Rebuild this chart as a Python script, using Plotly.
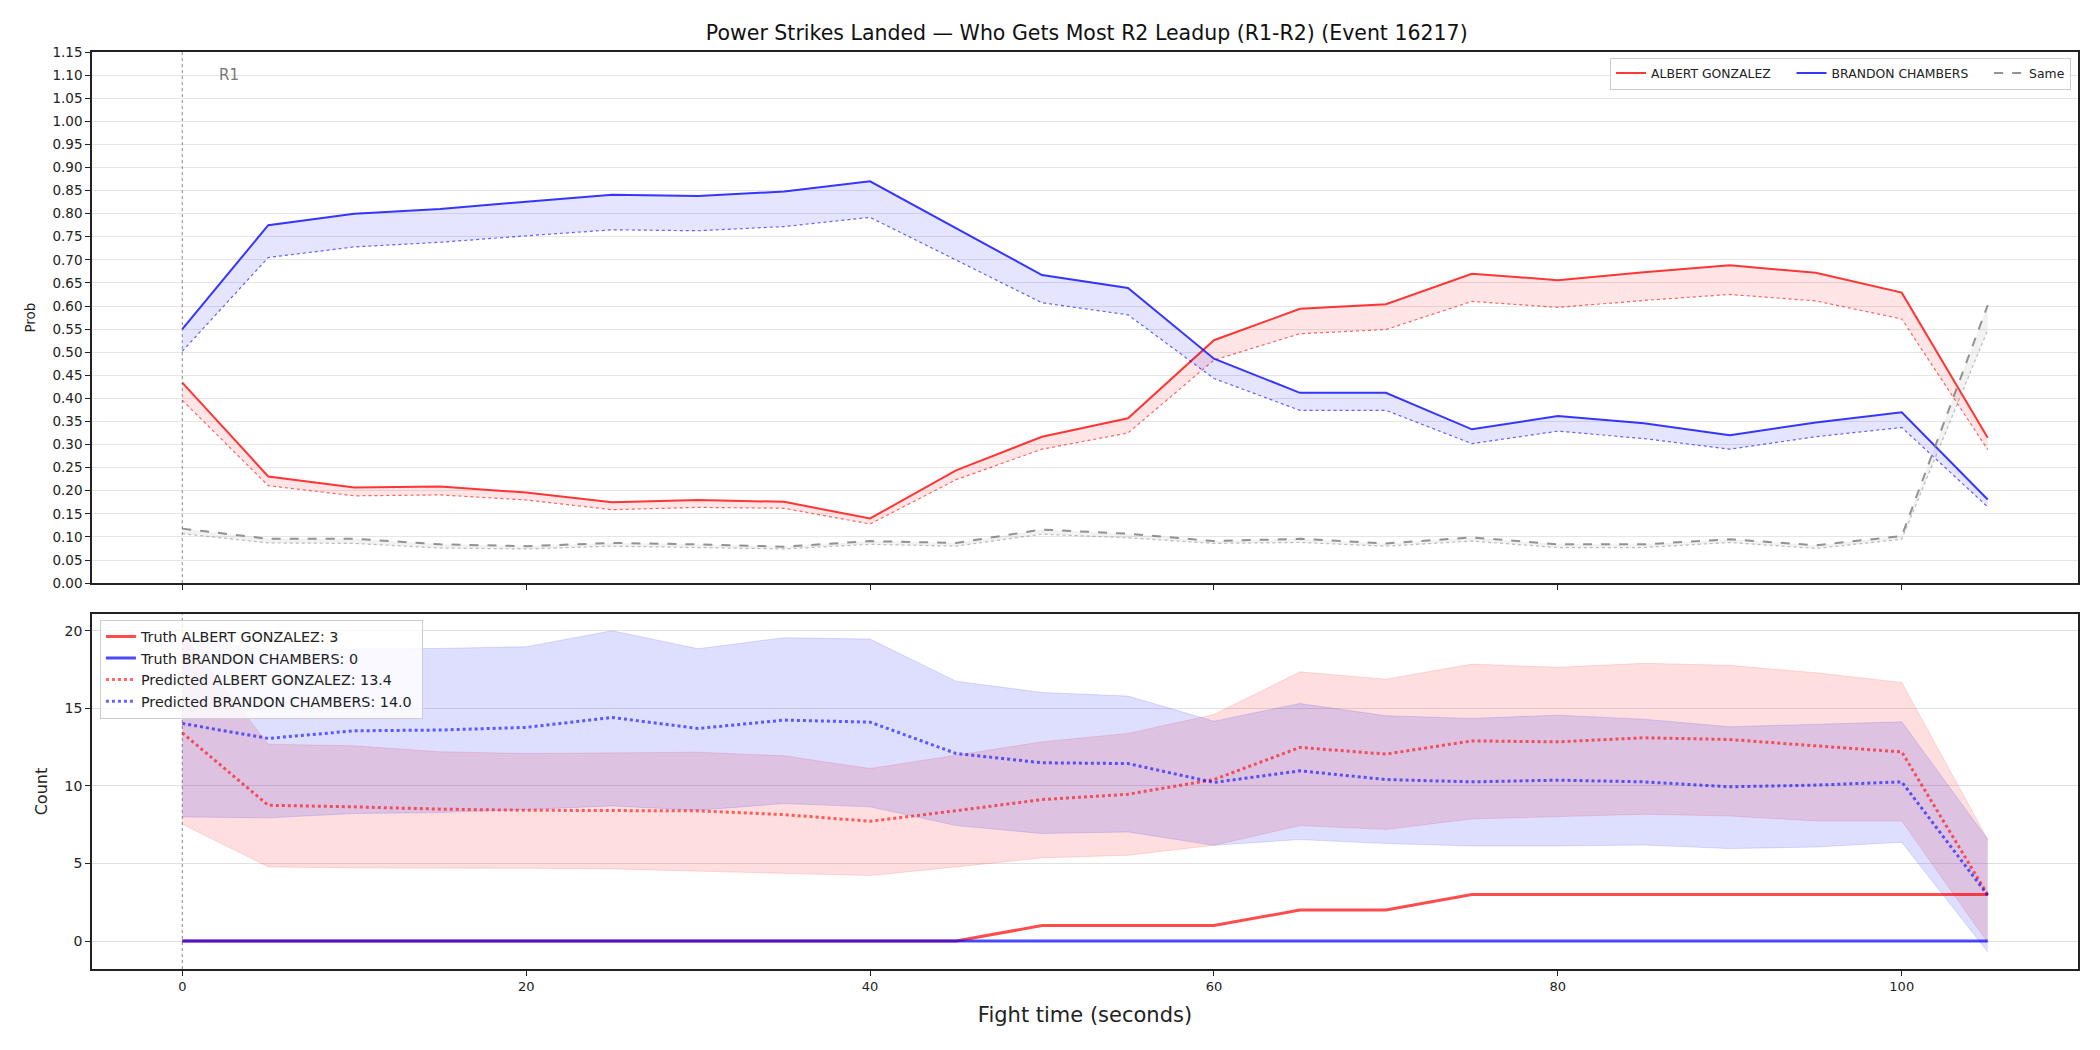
import plotly.graph_objects as go

times = [0, 5, 10, 15, 20, 25, 30, 35, 40, 45, 50, 55, 60, 65, 70, 75, 80, 85, 90, 95, 100, 105]

# Top panel: probabilities
prob_albert = [0.434, 0.231, 0.207, 0.209, 0.196, 0.175, 0.180, 0.176, 0.140, 0.244, 0.317, 0.357,
               0.526, 0.594, 0.604, 0.670, 0.656, 0.673, 0.688, 0.672, 0.629, 0.315]
prob_albert_pred = [0.396, 0.211, 0.189, 0.191, 0.180, 0.159, 0.164, 0.162, 0.128, 0.224, 0.290, 0.325,
                    0.483, 0.540, 0.549, 0.610, 0.597, 0.612, 0.625, 0.611, 0.572, 0.289]
prob_brandon = [0.550, 0.775, 0.800, 0.810, 0.826, 0.841, 0.838, 0.848, 0.870, 0.769, 0.667, 0.639,
                0.486, 0.412, 0.412, 0.333, 0.362, 0.346, 0.320, 0.348, 0.370, 0.181]
prob_brandon_pred = [0.502, 0.705, 0.728, 0.738, 0.752, 0.765, 0.763, 0.772, 0.792, 0.700, 0.607, 0.581,
                     0.443, 0.374, 0.374, 0.302, 0.329, 0.313, 0.290, 0.317, 0.337, 0.165]
prob_same = [0.118, 0.096, 0.096, 0.084, 0.080, 0.087, 0.084, 0.079, 0.091, 0.087, 0.116, 0.107,
             0.091, 0.096, 0.086, 0.099, 0.084, 0.084, 0.095, 0.082, 0.102, 0.602]
prob_same_pred = [0.107, 0.087, 0.086, 0.076, 0.074, 0.080, 0.077, 0.074, 0.084, 0.080, 0.106, 0.098,
                  0.086, 0.088, 0.080, 0.091, 0.077, 0.077, 0.088, 0.075, 0.095, 0.548]

# Bottom panel: counts
truth_albert = [0, 0, 0, 0, 0, 0, 0, 0, 0, 0, 1, 1, 1, 2, 2, 3, 3, 3, 3, 3, 3, 3]
truth_brandon = [0, 0, 0, 0, 0, 0, 0, 0, 0, 0, 0, 0, 0, 0, 0, 0, 0, 0, 0, 0, 0, 0]
pred_albert = [13.42, 8.75, 8.65, 8.50, 8.43, 8.43, 8.39, 8.15, 7.72, 8.40, 9.12, 9.46,
               10.41, 12.48, 12.05, 12.90, 12.84, 13.10, 12.99, 12.58, 12.19, 2.99]
pred_albert_lo = [7.53, 4.78, 4.71, 4.71, 4.69, 4.65, 4.52, 4.39, 4.22, 4.78, 5.36, 5.53,
                  6.17, 7.44, 7.19, 7.87, 8.00, 8.17, 8.06, 7.74, 7.74, -0.10]
pred_albert_hi = [19.80, 12.69, 12.58, 12.20, 12.09, 12.13, 12.17, 11.94, 11.12, 11.98, 12.84, 13.38,
                  14.60, 17.35, 16.88, 17.85, 17.64, 17.90, 17.77, 17.29, 16.67, 6.54]
pred_brandon = [14.02, 13.06, 13.55, 13.60, 13.77, 14.41, 13.70, 14.24, 14.11, 12.09, 11.49, 11.44,
                10.22, 10.97, 10.41, 10.26, 10.37, 10.26, 9.94, 10.05, 10.26, 2.95]
pred_brandon_lo = [8.00, 7.94, 8.22, 8.28, 8.48, 8.71, 8.43, 8.86, 8.65, 7.44, 6.93, 7.03,
                   6.17, 6.54, 6.28, 6.13, 6.13, 6.19, 5.96, 6.06, 6.37, -0.71]
pred_brandon_hi = [19.50, 18.76, 18.82, 18.86, 18.97, 20.00, 18.84, 19.55, 19.46, 16.75, 16.02, 15.79,
                   14.17, 15.31, 14.52, 14.35, 14.56, 14.30, 13.81, 13.96, 14.13, 6.54]

name_a = "ALBERT GONZALEZ"
name_b = "BRANDON CHAMBERS"
prob_ticks = [0.05 * i for i in range(24)]

FONT = "DejaVu Sans"
PAD = "\u00a0" * 4
fig = go.Figure()

# ---------- top panel ----------
def top_pair(pred, actual, line_col, dot_col, fill_col, name, dash_main="solid", pad=""):
    fig.add_trace(go.Scatter(x=times, y=pred, mode="lines", xaxis="x", yaxis="y",
                             line=dict(color=dot_col, width=1.2, dash="dot"),
                             showlegend=False, hoverinfo="skip"))
    fig.add_trace(go.Scatter(x=times, y=actual, mode="lines", xaxis="x", yaxis="y",
                             line=dict(color=line_col, width=2, dash=dash_main),
                             fill="tonexty", fillcolor=fill_col,
                             name=name, showlegend=False))
    # legend-only entry (line sample without fill swatch)
    fig.add_trace(go.Scatter(x=[None], y=[None], mode="lines", xaxis="x", yaxis="y",
                             line=dict(color=line_col, width=2, dash=dash_main),
                             name=name + pad, showlegend=True, legend="legend"))

top_pair(prob_albert_pred, prob_albert, "rgba(255,20,20,0.85)", "rgba(255,0,0,0.6)",
         "rgba(255,0,0,0.1)", name_a, pad=PAD)
top_pair(prob_brandon_pred, prob_brandon, "rgba(20,20,255,0.85)", "rgba(0,0,255,0.6)",
         "rgba(0,0,255,0.1)", name_b, pad=PAD)
top_pair(prob_same_pred, prob_same, "rgba(128,128,128,0.85)", "rgba(128,128,128,0.5)",
         "rgba(128,128,128,0.1)", "Same", dash_main="dash")

# ---------- bottom panel ----------
def band(lo, hi, edge, fill):
    fig.add_trace(go.Scatter(x=times, y=lo, mode="lines", xaxis="x2", yaxis="y2",
                             line=dict(color=edge, width=1), showlegend=False, hoverinfo="skip"))
    fig.add_trace(go.Scatter(x=times, y=hi, mode="lines", xaxis="x2", yaxis="y2",
                             line=dict(color=edge, width=1), fill="tonexty", fillcolor=fill,
                             showlegend=False, hoverinfo="skip"))

band(pred_albert_lo, pred_albert_hi, "rgba(255,0,0,0.12)", "rgba(250,60,60,0.17)")
band(pred_brandon_lo, pred_brandon_hi, "rgba(0,0,255,0.12)", "rgba(60,60,250,0.17)")

fig.add_trace(go.Scatter(x=times, y=truth_albert, mode="lines", xaxis="x2", yaxis="y2",
                         line=dict(color="rgba(255,0,0,0.7)", width=3),
                         name=f"Truth {name_a}: {truth_albert[-1]}", legend="legend2"))
fig.add_trace(go.Scatter(x=times, y=truth_brandon, mode="lines", xaxis="x2", yaxis="y2",
                         line=dict(color="rgba(0,0,255,0.7)", width=3),
                         name=f"Truth {name_b}: {truth_brandon[-1]}", legend="legend2"))
fig.add_trace(go.Scatter(x=times, y=pred_albert, mode="lines", xaxis="x2", yaxis="y2",
                         line=dict(color="rgba(255,0,0,0.6)", width=3, dash="dot"),
                         name=f"Predicted {name_a}: {pred_albert[0]:.1f}", legend="legend2"))
fig.add_trace(go.Scatter(x=times, y=pred_brandon, mode="lines", xaxis="x2", yaxis="y2",
                         line=dict(color="rgba(0,0,255,0.6)", width=3, dash="dot"),
                         name=f"Predicted {name_b}: {pred_brandon[0]:.1f}\u00a0", legend="legend2"))

# vertical round marker
for xr, yref in (("x", "y domain"), ("x2", "y2 domain")):
    fig.add_shape(type="line", x0=0, x1=0, y0=0, y1=1, xref=xr, yref=yref,
                  line=dict(color="rgba(80,80,80,0.7)", width=1, dash="dot"))
fig.add_annotation(x=2.0, y=1.10, xref="x", yref="y", text="R1", showarrow=False,
                   xanchor="left", font=dict(family=FONT, size=15, color="rgba(100,100,100,0.9)"))

axis_common = dict(showline=True, linecolor="#222", linewidth=1.5, mirror=True,
                   ticks="outside", ticklen=5, tickcolor="#222", zeroline=False,
                   tickfont=dict(family=FONT, size=13, color="#222"))

fig.update_layout(
    width=2100, height=1050,
    margin=dict(l=92, r=22, t=52, b=81),
    paper_bgcolor="white", plot_bgcolor="white",
    font=dict(family=FONT, color="#222"),
    title=dict(text="Power Strikes Landed — Who Gets Most R2 Leadup (R1-R2) (Event 16217)",
               x=0.5175, xanchor="center", y=0.969, yanchor="middle",
               font=dict(family=FONT, size=20.5, color="#111")),
    xaxis=dict(domain=[0, 1], anchor="y", range=[-5.25, 110.25], showticklabels=False,
               showgrid=False, tickvals=[0, 20, 40, 60, 80, 100], **axis_common),
    yaxis=dict(domain=[0.4208, 1], anchor="x", range=[0, 1.15], tickvals=prob_ticks,
               tickformat=".2f", showgrid=True, gridcolor="#e6e6e6", gridwidth=1,
               title=dict(text="Prob", font=dict(family=FONT, size=13.5), standoff=14),
               **{**axis_common, "tickfont": dict(family=FONT, size=13.5, color="#222")}),
    xaxis2=dict(domain=[0, 1], anchor="y2", range=[-5.25, 110.25], showgrid=False,
                tickvals=[0, 20, 40, 60, 80, 100],
                title=dict(text="Fight time (seconds)", font=dict(family=FONT, size=21), standoff=14),
                **axis_common),
    yaxis2=dict(domain=[0, 0.387], anchor="x2", range=[-1.8, 21.07], tickvals=[0, 5, 10, 15, 20],
                showgrid=True, gridcolor="#e0e0e0", gridwidth=1,
                title=dict(text="Count", font=dict(family=FONT, size=16), standoff=13),
                **{**axis_common, "tickfont": dict(family=FONT, size=14, color="#222")}),
    legend=dict(orientation="h", x=0.9965, xanchor="right", y=0.994, yanchor="top",
                traceorder="normal",
                bgcolor="rgba(255,255,255,0.85)", bordercolor="#cccccc", borderwidth=1,
                font=dict(family=FONT, size=12.4, color="#222"), itemwidth=30,
                tracegroupgap=0),
    legend2=dict(orientation="v", x=0.004, xanchor="left", y=0.381, yanchor="top",
                 traceorder="normal",
                 bgcolor="rgba(255,255,255,0.8)", bordercolor="#cccccc", borderwidth=1,
                 font=dict(family=FONT, size=14.3, color="#222"), itemwidth=30,
                 tracegroupgap=0),
)

fig.write_html("out.html")
